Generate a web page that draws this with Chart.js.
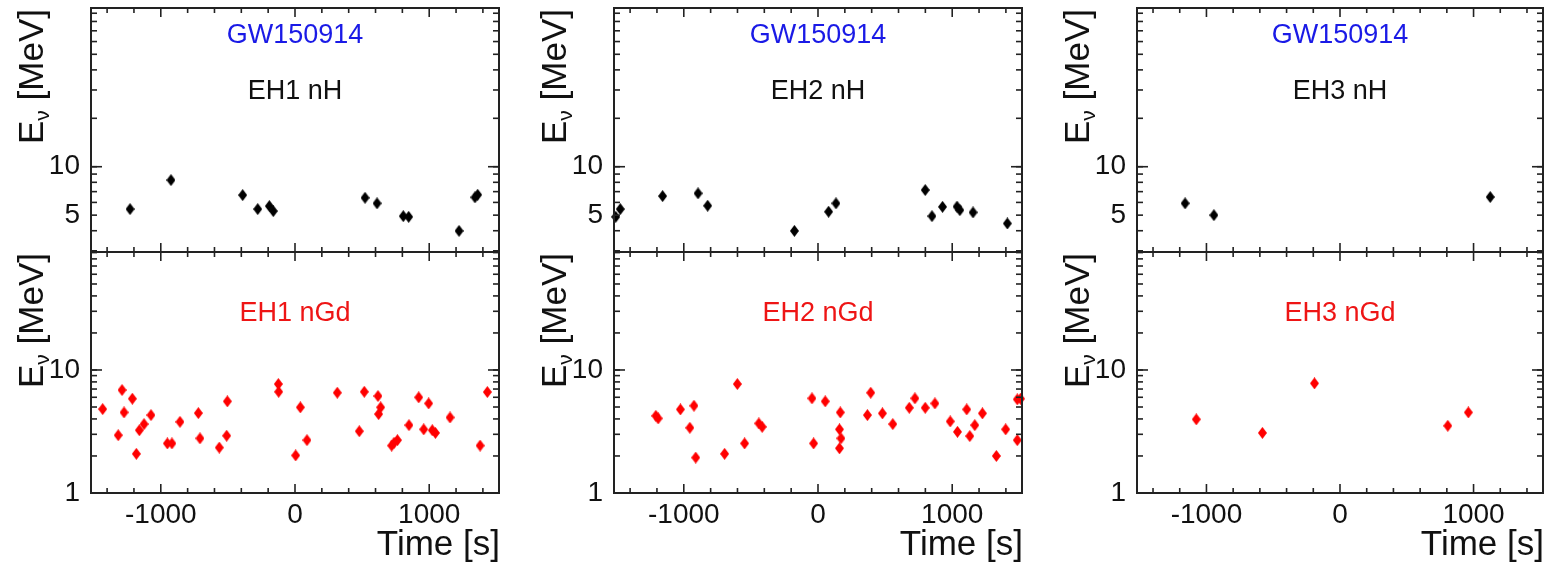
<!DOCTYPE html>
<html><head><meta charset="utf-8">
<script src="https://cdn.jsdelivr.net/npm/chart.js@4.4.1/dist/chart.umd.min.js"></script>
<style>
html,body{margin:0;padding:0;background:#fff;width:1547px;height:566px;overflow:hidden;}
canvas{position:absolute;}
</style></head><body>
<canvas id="t1" width="510" height="260" style="left:0px;top:0px"></canvas>
<canvas id="t2" width="520" height="260" style="left:510px;top:0px"></canvas>
<canvas id="t3" width="517" height="260" style="left:1030px;top:0px"></canvas>
<canvas id="b1" width="510" height="322" style="left:0px;top:244px"></canvas>
<canvas id="b2" width="520" height="322" style="left:510px;top:244px"></canvas>
<canvas id="b3" width="517" height="322" style="left:1030px;top:244px"></canvas>
<script>
// ---------- data ----------
const halls = ['EH1', 'EH2', 'EH3'];
const eventName = 'GW150914';
const xTickLabels = [-1000, 0, 1000];
const yTickLabelsH = [5, 10];
const yTickLabelsGd = [1, 10];
const xTitle = 'Time [s]';

const EH1_nH_time   = [-1229, -924, -390, -278, -191, -162, 522, 611, 807, 847, 1222, 1341, 1361];
const EH1_nH_energy = [5.45, 8.26, 6.66, 5.45, 5.69, 5.30, 6.41, 5.92, 4.93, 4.88, 3.99, 6.45, 6.69];

const EH2_nH_time   = [-1507, -1473, -1158, -894, -822, -176, 79, 134, 799, 849, 928, 1036, 1057, 1155, 1411];
const EH2_nH_energy = [4.88, 5.45, 6.57, 6.83, 5.72, 3.99, 5.25, 5.92, 7.16, 4.93, 5.63, 5.65, 5.37, 5.20, 4.44];

const EH3_nH_time   = [-1160, -944, 1125];
const EH3_nH_energy = [5.92, 5.00, 6.48];

const EH1_nGd_time   = [-1433, -1317, -1289, -1274, -1212, -1182, -1160, -1125, -1073, -951, -917, -857, -720, -708, -564, -509, -504, -124, -122, 5, 40, 89, 315, 479, 516, 618, 638, 623, 720, 738, 763, 849, 922, 959, 996, 1023, 1046, 1155, 1379, 1433];
const EH1_nGd_energy = [4.81, 2.95, 6.87, 4.52, 5.84, 2.08, 3.24, 3.63, 4.30, 2.53, 2.53, 3.79, 4.46, 2.78, 2.34, 2.92, 5.56, 7.69, 6.65, 2.02, 4.97, 2.69, 6.53, 3.18, 6.65, 6.14, 4.97, 4.38, 2.43, 2.56, 2.69, 3.56, 5.99, 3.29, 5.35, 3.24, 3.08, 4.11, 2.43, 6.62];

const EH2_nGd_time   = [-1208, -1191, -1025, -955, -924, -911, -696, -601, -547, -441, -416, -45, -33, 54, 166, 160, 171, 160, 368, 393, 480, 557, 680, 722, 799, 871, 985, 1039, 1108, 1131, 1168, 1225, 1329, 1398, 1485, 1509, 1485];
const EH2_nGd_energy = [4.24, 4.04, 4.78, 3.39, 5.12, 1.94, 2.08, 7.69, 2.53, 3.68, 3.45, 5.88, 2.53, 5.56, 4.52, 3.29, 2.78, 2.31, 4.30, 6.53, 4.44, 3.63, 4.93, 5.88, 4.93, 5.35, 3.82, 3.14, 4.78, 2.90, 3.56, 4.44, 2.00, 3.29, 5.77, 5.84, 2.69];

const EH3_nGd_time   = [-1076, -581, -191, 807, 961];
const EH3_nGd_energy = [3.97, 3.08, 7.79, 3.52, 4.52];

// ---------- styling ----------
const FONT = '"Liberation Sans", Arial, Helvetica, sans-serif';
const X_MIN = -1520, X_MAX = 1520;

function makeDiamond(color, w, h) {
  const c = document.createElement('canvas');
  c.width = w; c.height = h;
  const g = c.getContext('2d');
  g.fillStyle = color;
  g.beginPath();
  g.moveTo(w / 2, 0); g.lineTo(w, h / 2); g.lineTo(w / 2, h); g.lineTo(0, h / 2);
  g.closePath(); g.fill();
  return c;
}
const diamondBlack = makeDiamond('#000000', 9, 12);
const diamondRed = makeDiamond('#ff0000', 9, 12);

function logMinors(min, max) {
  const out = [];
  for (let d = 0.1; d <= 1000; d *= 10) {
    for (let k = 1; k <= 9; k++) {
      const v = +(k * d).toPrecision(3);
      if (v > min * 1.0001 && v < max * 0.9999) out.push(v);
    }
  }
  return out;
}
function linMinors() {
  const out = [];
  for (let v = -1400; v <= 1400; v += 200) if (v % 1000 !== 0) out.push(v);
  return out;
}

const framePlugin = {
  id: 'frame',
  afterDraw(chart, args, o) {
    const { ctx, chartArea: a } = chart;
    const x = chart.scales.x, y = chart.scales.y;
    ctx.save();
    ctx.strokeStyle = '#222';
    ctx.lineCap = 'butt';
    const seg = (x1, y1, x2, y2) => { ctx.beginPath(); ctx.moveTo(x1, y1); ctx.lineTo(x2, y2); ctx.stroke(); };
    ctx.lineWidth = 1.6;
    const xMaj = xTickLabels, xMin = linMinors();
    xMaj.forEach(v => { const p = x.getPixelForValue(v); seg(p, a.top, p, a.top + 9); seg(p, a.bottom, p, a.bottom - 9); });
    xMin.forEach(v => { const p = x.getPixelForValue(v); seg(p, a.top, p, a.top + 5); seg(p, a.bottom, p, a.bottom - 5); });
    o.yMajor.forEach(v => { const p = y.getPixelForValue(v); seg(a.left, p, a.left + 11, p); seg(a.right, p, a.right - 11, p); });
    o.yMinor.forEach(v => { const p = y.getPixelForValue(v); seg(a.left, p, a.left + 6, p); seg(a.right, p, a.right - 6, p); });
    ctx.lineWidth = 2;
    ctx.strokeRect(a.left, a.top, a.right - a.left, a.bottom - a.top);

    // annotations
    const cx = (a.left + a.right) / 2;
    ctx.textAlign = 'center';
    ctx.textBaseline = 'middle';
    ctx.font = '27px ' + FONT;
    o.labels.forEach(l => { ctx.fillStyle = l.color; ctx.fillText(l.text, cx, a.top + l.dy); });

    // y title: E_nu [MeV], rotated, ending at the top of the frame
    ctx.save();
    ctx.translate(a.left - 48, a.top + 1);
    ctx.rotate(-Math.PI / 2);
    ctx.textAlign = 'left';
    ctx.textBaseline = 'alphabetic';
    ctx.fillStyle = '#111';
    const big = '35px ' + FONT, small = '21px ' + FONT;
    ctx.font = big; const wE = ctx.measureText('E').width; const wRest = ctx.measureText(' [MeV]').width;
    ctx.font = small; const wNu = ctx.measureText('\u03BD').width;
    let sx = -(wE + wNu + wRest);
    ctx.font = big; ctx.fillText('E', sx, 0); sx += wE;
    ctx.font = small; ctx.fillText('\u03BD', sx, 6); sx += wNu;
    ctx.font = big; ctx.fillText(' [MeV]', sx, 0);
    ctx.restore();

    if (o.xTitle) {
      ctx.font = '35px ' + FONT;
      ctx.fillStyle = '#111';
      ctx.textAlign = 'right';
      ctx.textBaseline = 'alphabetic';
      ctx.fillText(xTitle, a.right + 1, a.bottom + 62);
    }
    ctx.restore();
  }
};

const yWidths = [91, 104, 107];
const rightPads = [11, 8, 3];

function makeChart(id, col, isTop, times, energies) {
  const pts = times.map((t, i) => ({ x: t, y: energies[i] }));
  const yMin = isTop ? 2.95 : 1, yMax = isTop ? 97 : 91;
  const yLabels = isTop ? yTickLabelsH : yTickLabelsGd;
  const labels = isTop
    ? [{ text: eventName, color: '#1a1ae6', dy: 28 }, { text: halls[col] + ' nH', color: '#111', dy: 84 }]
    : [{ text: halls[col] + ' nGd', color: '#ee1515', dy: 62 }];
  return new Chart(document.getElementById(id), {
    type: 'scatter',
    data: { datasets: [{
      data: pts,
      pointStyle: isTop ? diamondBlack : diamondRed,
      pointRadius: 4, pointHoverRadius: 4,
      backgroundColor: isTop ? '#000' : '#f00',
      borderWidth: 0,
      clip: false
    }] },
    options: {
      responsive: false, animation: false, events: [],
      layout: { padding: { left: 0, right: rightPads[col], top: 8, bottom: isTop ? 8 : 0 } },
      plugins: {
        legend: { display: false }, tooltip: { enabled: false },
        frame: { yMajor: isTop ? [10] : [1, 10], yMinor: logMinors(yMin, yMax), labels, xTitle: !isTop }
      },
      scales: {
        x: {
          type: 'linear', min: X_MIN, max: X_MAX, display: !isTop,
          grid: { display: false, drawTicks: false }, border: { display: false },
          afterBuildTicks: s => { s.ticks = xTickLabels.map(v => ({ value: v })); },
          afterFit: s => { if (!isTop) s.height = 73; s.paddingLeft = 0; s.paddingRight = 0; s.paddingTop = 0; s.paddingBottom = 0; },
          ticks: { autoSkip: false, maxRotation: 0, padding: 5, color: '#111',
                   font: { family: FONT, size: 28 }, callback: v => String(v) }
        },
        y: {
          type: 'logarithmic', min: yMin, max: yMax,
          grid: { display: false, drawTicks: false }, border: { display: false },
          afterBuildTicks: s => { s.ticks = yLabels.map(v => ({ value: v })); },
          afterFit: s => { s.width = yWidths[col]; s.paddingLeft = 0; s.paddingRight = 0; s.paddingTop = 0; s.paddingBottom = 0; },
          ticks: { autoSkip: false, padding: 11, color: '#111',
                   font: { family: FONT, size: 28 }, callback: v => String(v) }
        }
      }
    },
    plugins: [framePlugin]
  });
}

makeChart('t1', 0, true, EH1_nH_time, EH1_nH_energy);
makeChart('t2', 1, true, EH2_nH_time, EH2_nH_energy);
makeChart('t3', 2, true, EH3_nH_time, EH3_nH_energy);
makeChart('b1', 0, false, EH1_nGd_time, EH1_nGd_energy);
makeChart('b2', 1, false, EH2_nGd_time, EH2_nGd_energy);
makeChart('b3', 2, false, EH3_nGd_time, EH3_nGd_energy);
</script>
</body></html>
